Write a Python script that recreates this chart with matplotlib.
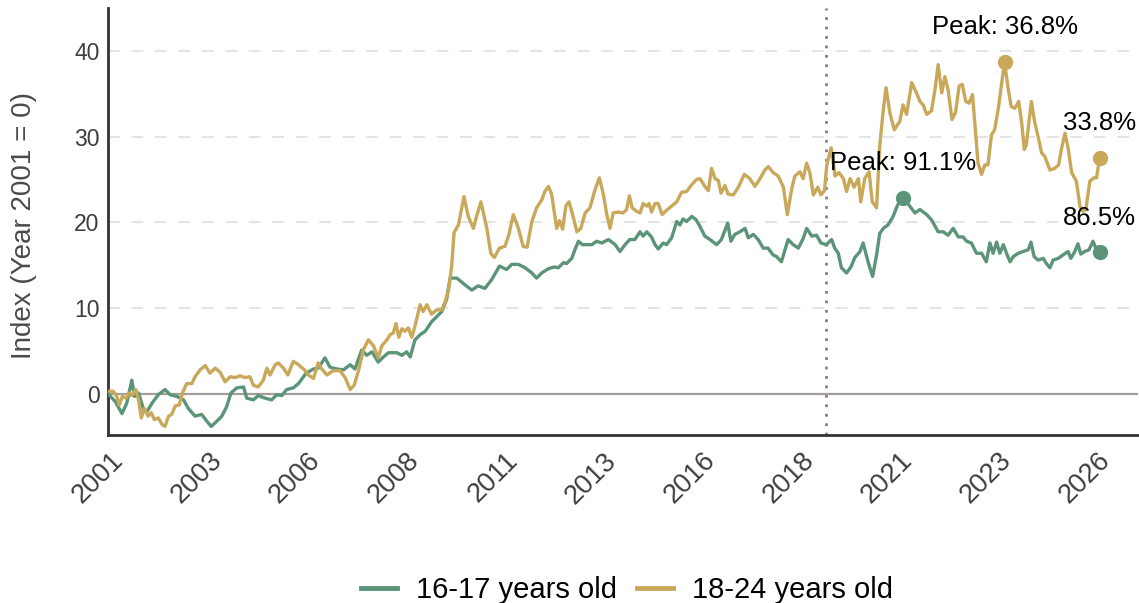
import numpy as np
import matplotlib.pyplot as plt
from matplotlib.transforms import ScaledTranslation

plt.rcParams['font.family'] = ['Liberation Sans', 'DejaVu Sans']

# 16-17 years old (decimal year, index value)
dates_1617 = [
    2000.33, 2000.49, 2000.66, 2000.78, 2000.91, 2000.98, 2001.08, 2001.20, 2001.29, 2001.42,
    2001.58, 2001.75, 2001.88, 2002.05, 2002.22, 2002.34, 2002.51, 2002.68, 2002.81, 2002.92,
    2003.06, 2003.19, 2003.31, 2003.42, 2003.57, 2003.74, 2003.82, 2003.99, 2004.11, 2004.28,
    2004.45, 2004.58, 2004.71, 2004.83, 2005.00, 2005.13, 2005.32, 2005.51, 2005.63, 2005.80,
    2005.93, 2006.10, 2006.27, 2006.44, 2006.56, 2006.73, 2006.86, 2006.99, 2007.15, 2007.28,
    2007.41, 2007.62, 2007.75, 2007.87, 2007.96, 2008.08, 2008.21, 2008.34, 2008.50, 2008.63,
    2008.76, 2008.88, 2008.97, 2009.14, 2009.35, 2009.52, 2009.68, 2009.85, 2010.02, 2010.22,
    2010.40, 2010.53, 2010.70, 2010.87, 2011.04, 2011.16, 2011.29, 2011.46, 2011.61, 2011.71,
    2011.84, 2011.92, 2012.05, 2012.13, 2012.22, 2012.32, 2012.43, 2012.56, 2012.68, 2012.81,
    2012.98, 2013.15, 2013.27, 2013.40, 2013.52, 2013.65, 2013.78, 2013.86, 2013.95, 2014.07,
    2014.16, 2014.24, 2014.37, 2014.45, 2014.58, 2014.71, 2014.79, 2014.87, 2014.96, 2015.09,
    2015.20, 2015.30, 2015.42, 2015.55, 2015.72, 2015.84, 2016.00, 2016.08, 2016.18, 2016.31,
    2016.44, 2016.52, 2016.65, 2016.77, 2016.90, 2017.02, 2017.15, 2017.24, 2017.36, 2017.45,
    2017.53, 2017.66, 2017.79, 2017.91, 2018.00, 2018.13, 2018.25, 2018.36, 2018.50, 2018.63,
    2018.71, 2018.80, 2018.88, 2019.01, 2019.12, 2019.22, 2019.35, 2019.43, 2019.56, 2019.67,
    2019.77, 2019.85, 2019.94, 2020.06, 2020.19, 2020.30, 2020.44, 2020.61, 2020.74, 2020.87,
    2021.04, 2021.16, 2021.33, 2021.46, 2021.58, 2021.71, 2021.84, 2021.96, 2022.05, 2022.17,
    2022.30, 2022.43, 2022.55, 2022.64, 2022.72, 2022.81, 2022.89, 2022.98, 2023.06, 2023.15,
    2023.23, 2023.36, 2023.48, 2023.61, 2023.68, 2023.76, 2023.86, 2023.99, 2024.07, 2024.16,
    2024.24, 2024.37, 2024.49, 2024.62, 2024.69, 2024.79, 2024.87, 2024.94, 2025.04, 2025.15,
    2025.25, 2025.34, 2025.42,
]
index_1617 = [
    -0.1, -0.9, -2.3, -1.1, 1.6, -0.3, 0.1, -1.7, -2.1, -1.1,
    -0.1, 0.5, -0.1, -0.3, -0.7, -1.7, -2.6, -2.4, -3.2, -3.8,
    -3.2, -2.6, -1.5, 0.1, 0.7, 0.8, -0.5, -0.7, -0.2, -0.5,
    -0.7, -0.1, -0.2, 0.5, 0.7, 1.2, 2.4, 2.9, 3.0, 4.2,
    3.1, 2.9, 2.8, 3.4, 2.9, 5.1, 4.5, 4.9, 3.7, 4.3,
    4.8, 4.8, 4.5, 4.9, 4.3, 6.3, 6.9, 7.3, 8.4, 9.0,
    9.6, 11.0, 13.5, 13.5, 12.7, 12.1, 12.6, 12.3, 13.3, 14.9,
    14.5, 15.1, 15.1, 14.7, 14.1, 13.5, 14.1, 14.6, 14.8, 14.7,
    15.3, 15.2, 15.8, 16.8, 17.8, 17.4, 17.4, 17.4, 17.8, 17.6,
    18.0, 17.4, 16.6, 17.4, 18.0, 18.0, 18.9, 18.4, 18.9, 18.3,
    17.4, 16.9, 17.6, 17.4, 18.2, 20.1, 19.7, 20.4, 20.1, 20.7,
    20.3, 19.5, 18.4, 18.0, 17.4, 18.0, 19.9, 17.8, 18.6, 18.9,
    19.3, 18.2, 18.6, 18.0, 17.0, 17.0, 16.2, 16.0, 15.4, 16.8,
    18.0, 17.4, 17.0, 18.1, 19.3, 18.4, 18.5, 17.6, 17.4, 18.0,
    17.0, 16.4, 14.7, 14.1, 14.8, 15.9, 16.6, 17.6, 15.3, 13.7,
    16.2, 18.7, 19.3, 19.7, 20.7, 22.0, 22.9, 21.9, 21.1, 21.5,
    20.9, 20.3, 18.9, 18.9, 18.5, 19.3, 18.3, 18.3, 17.8, 17.6,
    16.4, 16.4, 15.4, 17.6, 16.4, 17.7, 16.4, 17.4, 16.4, 15.4,
    16.0, 16.4, 16.6, 16.8, 17.7, 16.0, 15.6, 15.8, 15.2, 14.7,
    15.6, 15.8, 16.2, 16.6, 15.8, 16.6, 17.5, 16.3, 16.6, 16.8,
    17.8, 16.8, 16.5,
]

# 18-24 years old (decimal year, index value)
dates_1824 = [
    2000.33, 2000.44, 2000.53, 2000.59, 2000.67, 2000.76, 2000.84, 2000.91, 2001.01, 2001.08,
    2001.15, 2001.23, 2001.32, 2001.40, 2001.48, 2001.58, 2001.68, 2001.75, 2001.84, 2001.92,
    2002.01, 2002.11, 2002.19, 2002.30, 2002.43, 2002.51, 2002.64, 2002.77, 2002.89, 2003.02,
    2003.15, 2003.27, 2003.40, 2003.52, 2003.65, 2003.78, 2003.90, 2003.99, 2004.11, 2004.24,
    2004.33, 2004.41, 2004.54, 2004.62, 2004.75, 2004.86, 2005.00, 2005.13, 2005.28, 2005.38,
    2005.51, 2005.63, 2005.72, 2005.85, 2006.01, 2006.18, 2006.31, 2006.44, 2006.54, 2006.65,
    2006.77, 2006.90, 2007.03, 2007.15, 2007.24, 2007.37, 2007.45, 2007.53, 2007.60, 2007.67,
    2007.75, 2007.83, 2007.91, 2008.00, 2008.08, 2008.21, 2008.29, 2008.38, 2008.50, 2008.63,
    2008.76, 2008.84, 2008.93, 2009.01, 2009.07, 2009.18, 2009.32, 2009.43, 2009.56, 2009.64,
    2009.75, 2009.90, 2010.00, 2010.09, 2010.22, 2010.36, 2010.46, 2010.57, 2010.70, 2010.82,
    2010.92, 2011.04, 2011.16, 2011.29, 2011.37, 2011.46, 2011.54, 2011.67, 2011.74, 2011.82,
    2011.90, 2011.98, 2012.09, 2012.18, 2012.28, 2012.39, 2012.51, 2012.64, 2012.75, 2012.85,
    2012.93, 2013.02, 2013.10, 2013.23, 2013.35, 2013.44, 2013.51, 2013.58, 2013.69, 2013.78,
    2013.86, 2013.95, 2014.01, 2014.07, 2014.16, 2014.24, 2014.34, 2014.45, 2014.58, 2014.71,
    2014.83, 2014.96, 2015.09, 2015.21, 2015.30, 2015.42, 2015.51, 2015.59, 2015.68, 2015.76,
    2015.83, 2015.93, 2016.01, 2016.14, 2016.27, 2016.42, 2016.56, 2016.69, 2016.82, 2016.94,
    2017.03, 2017.15, 2017.28, 2017.41, 2017.51, 2017.62, 2017.70, 2017.83, 2017.91, 2018.00,
    2018.08, 2018.17, 2018.28, 2018.36, 2018.45, 2018.51, 2018.62, 2018.72, 2018.82, 2018.93,
    2019.01, 2019.10, 2019.20, 2019.31, 2019.37, 2019.47, 2019.58, 2019.66, 2019.77, 2019.85,
    2019.94, 2020.01, 2020.11, 2020.22, 2020.36, 2020.44, 2020.53, 2020.66, 2020.78, 2020.87,
    2020.95, 2021.04, 2021.16, 2021.25, 2021.33, 2021.42, 2021.50, 2021.58, 2021.68, 2021.77,
    2021.86, 2021.94, 2022.03, 2022.11, 2022.20, 2022.28, 2022.34, 2022.43, 2022.51, 2022.59,
    2022.68, 2022.76, 2022.86, 2023.01, 2023.10, 2023.18, 2023.27, 2023.37, 2023.45, 2023.51,
    2023.56, 2023.69, 2023.77, 2023.88, 2023.95, 2024.03, 2024.16, 2024.28, 2024.38, 2024.45,
    2024.54, 2024.62, 2024.71, 2024.83, 2024.92, 2025.00, 2025.07, 2025.17, 2025.28, 2025.34,
    2025.42,
]
index_1824 = [
    0.3, 0.3, -0.3, -1.3, -0.3, -0.5, 0.1, -0.2, 0.5, -0.7,
    -2.8, -1.7, -2.6, -2.2, -3.0, -2.8, -3.6, -3.8, -2.6, -2.4,
    -1.4, -1.3, 0.1, 1.2, 1.2, 2.0, 2.8, 3.3, 2.4, 3.0,
    2.5, 1.4, 2.0, 1.9, 2.1, 1.9, 2.0, 1.0, 0.8, 1.6,
    3.0, 2.2, 3.4, 3.6, 3.0, 2.2, 3.8, 3.4, 2.8, 2.2,
    1.8, 3.6, 2.9, 2.2, 2.7, 2.7, 1.9, 0.5, 1.0, 2.7,
    5.1, 6.3, 5.6, 4.2, 5.6, 6.3, 6.9, 7.1, 8.2, 6.6,
    7.6, 7.3, 7.7, 6.6, 7.9, 10.4, 9.6, 10.4, 9.3, 9.8,
    9.8, 10.7, 12.1, 14.9, 18.8, 19.7, 23.0, 20.7, 19.3, 20.7,
    22.4, 19.3, 16.4, 15.9, 17.0, 17.2, 18.6, 20.9, 19.3, 17.2,
    17.1, 20.1, 21.7, 22.6, 23.6, 24.2, 23.3, 19.3, 20.2, 19.2,
    21.9, 22.4, 20.6, 18.9, 19.3, 21.1, 21.7, 23.8, 25.2, 23.3,
    21.1, 19.3, 21.1, 21.2, 21.1, 21.5, 23.1, 21.7, 21.3, 21.1,
    22.2, 21.9, 22.2, 21.2, 22.2, 22.2, 20.9, 21.4, 21.9, 22.4,
    23.5, 23.6, 24.4, 25.0, 25.1, 24.2, 23.7, 26.3, 25.1, 24.9,
    23.4, 24.3, 23.3, 23.2, 24.1, 25.6, 25.1, 24.2, 25.1, 26.1,
    26.5, 25.8, 25.4, 24.1, 20.9, 23.9, 25.4, 25.9, 25.1, 26.9,
    25.8, 23.2, 24.1, 23.2, 23.7, 26.7, 28.7, 25.4, 25.8, 25.1,
    23.6, 25.1, 24.1, 25.1, 22.4, 25.1, 25.9, 22.4, 21.7, 28.9,
    33.1, 35.7, 32.7, 30.8, 31.8, 33.7, 32.6, 36.3, 35.1, 34.1,
    33.7, 32.6, 33.0, 35.5, 38.4, 35.1, 37.0, 35.5, 32.0, 32.8,
    35.9, 36.1, 34.1, 33.9, 34.9, 30.4, 26.9, 25.6, 26.7, 26.7,
    30.2, 30.8, 33.5, 38.7, 35.7, 33.5, 33.3, 34.1, 31.4, 28.5,
    29.0, 34.1, 31.8, 29.6, 28.1, 27.7, 26.1, 26.3, 26.7, 28.5,
    30.4, 28.7, 25.8, 24.8, 21.9, 21.3, 21.5, 24.8, 25.2, 25.2,
    27.5,
]

series_names = ["16-17 years old", "18-24 years old"]
series_colors = ["#5B9479", "#C9A85A"]
peak_labels = ["Peak: 91.1%", "Peak: 36.8%"]
end_labels = ["86.5%", "33.8%"]

tick_pos = [2001, 2003.5, 2006, 2008.5, 2011, 2013.5, 2016, 2018.5, 2021, 2023.5, 2026]
tick_text = ["2001", "2003", "2006", "2008", "2011", "2013", "2016", "2018", "2021", "2023", "2026"]
event_year = 2018.5

fig = plt.figure(figsize=(11.39, 6.03), dpi=100)
ax = fig.add_axes([0.0946, 0.2786, 0.9045, 0.7081])

# grid + reference lines
for yv in [10, 20, 30, 40]:
    ax.axhline(yv, color="#e2e2e2", lw=1.3, ls=(0, (6.5, 6.5)), zorder=0)
ax.axhline(0, color="#a59c9c", lw=1.6, zorder=1)
ax.axvline(event_year, color="#8a7f7f", lw=2, ls=(0, (1, 2.4)), zorder=1)

all_series = [(dates_1617, index_1617), (dates_1824, index_1824)]
for (d, v), name, col, pk, en in zip(all_series, series_names, series_colors, peak_labels, end_labels):
    d = np.array(d)
    v = np.array(v)
    ax.plot(d, v, color=col, lw=2.4, label=name, zorder=3)
    i = np.argmax(v)
    ax.plot(d[i], v[i], "o", color=col, ms=10, zorder=4)
    ax.plot(d[-1], v[-1], "o", color=col, ms=10, zorder=4)
    ax.annotate(pk, (d[i], v[i]), xytext=(0, 25), textcoords="offset points",
                ha="center", va="center", fontsize=18.5, color="black", zorder=5)
    ax.annotate(en, (d[-1], v[-1]), xytext=(0, 25), textcoords="offset points",
                ha="center", va="center", fontsize=18.5, color="black", zorder=5)

ax.set_xlim(2000.30, 2026.39)
ax.set_ylim(-4.8, 45.0)
ax.set_yticks([0, 10, 20, 30, 40])
ax.set_xticks(tick_pos)
ax.set_xticklabels(tick_text, rotation=45, ha="right")
ax.tick_params(axis="both", length=0, labelcolor="#3d3d3d")
ax.tick_params(axis="x", pad=9, labelsize=19.5)
ax.tick_params(axis="y", pad=6, labelsize=16.5)
# nudge rotated year labels a little to the left
shift = ScaledTranslation(-7 / 100, 0, fig.dpi_scale_trans)
for lab in ax.get_xticklabels():
    lab.set_transform(lab.get_transform() + shift)
ax.set_ylabel("Index (Year 2001 = 0)", fontsize=20, color="#4a4a4a")
ax.yaxis.set_label_coords(-0.069, 0.49)

for s in ["top", "right"]:
    ax.spines[s].set_visible(False)
for s in ["left", "bottom"]:
    ax.spines[s].set_color("#333333")
    ax.spines[s].set_linewidth(2)

leg = ax.legend(loc="center", bbox_to_anchor=(0.504, -0.363), ncol=2, frameon=False,
                fontsize=21, handlelength=1.23, handletextpad=0.67, columnspacing=0.67)
for h in leg.get_lines():
    h.set_linewidth(3.5)

fig.savefig("out.png", dpi=100)
